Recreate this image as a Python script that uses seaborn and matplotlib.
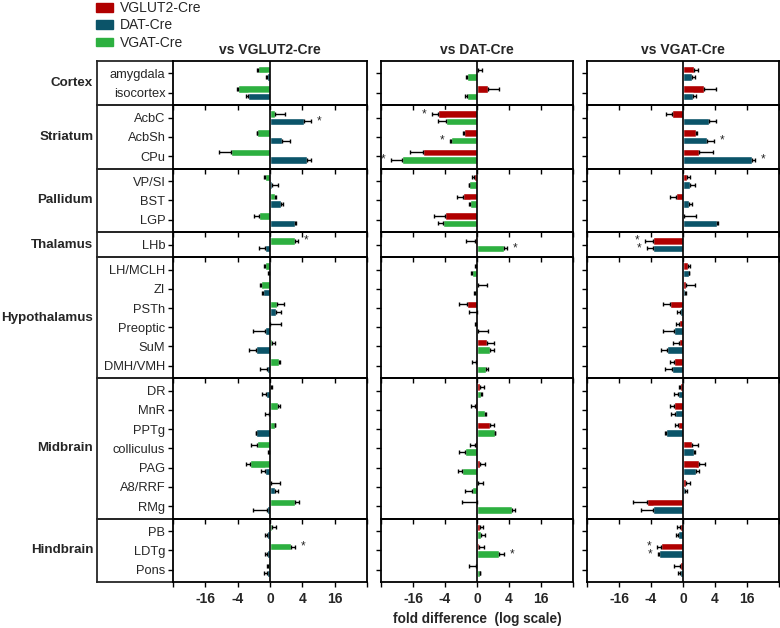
import matplotlib
matplotlib.use('Agg')
import matplotlib.pyplot as plt
from matplotlib.patches import Patch
import numpy as np
import pandas as pd
import seaborn as sns

# brain regions, grouped
groups = ['Cortex', 'Striatum', 'Pallidum', 'Thalamus', 'Hypothalamus', 'Midbrain', 'Hindbrain']
group_sizes = [2, 3, 3, 1, 6, 7, 3]
regions = ['amygdala', 'isocortex', 'AcbC', 'AcbSh', 'CPu', 'VP/SI', 'BST', 'LGP', 'LHb',
           'LH/MCLH', 'ZI', 'PSTh', 'Preoptic', 'SuM', 'DMH/VMH',
           'DR', 'MnR', 'PPTg', 'colliculus', 'PAG', 'A8/RRF', 'RMg',
           'PB', 'LDTg', 'Pons']

# log2 fold difference (mean) and one-sided error
# vs VGLUT2-Cre
vglut2_vgat = [-0.72, -1.99, 0.3, -0.78, -2.43, -0.32, 0.3, -0.66, 1.55, -0.32, -0.55, 0.42, 0.02,
               0.1, 0.55, 0.06, 0.51, 0.3, -0.8, -1.21, 0.04, 1.57, 0.13, 1.27, -0.13]
vglut2_vgat_err = [0.06, 0.04, 0.6, 0.04, 0.7, 0.06, 0.08, 0.31, 0.2, 0.08, 0.04, 0.45, 0.64,
                   0.18, 0.05, 0.06, 0.08, 0.04, 0.4, 0.27, 0.55, 0.23, 0.23, 0.25, 0.04]
vglut2_dat = [-0.19, -1.35, 2.12, 0.76, 2.31, 0.13, 0.7, 1.57, -0.3, -0.08, -0.44, 0.36, -0.34,
              -0.87, -0.19, -0.25, -0.08, -0.85, -0.08, -0.3, 0.34, -0.21, -0.17, -0.21, -0.21]
vglut2_dat_err = [0.06, 0.13, 0.44, 0.47, 0.25, 0.38, 0.13, 0.06, 0.38, 0.04, 0.04, 0.3, 0.7,
                  0.42, 0.44, 0.26, 0.24, 0.04, 0.04, 0.23, 0.17, 0.83, 0.17, 0.08, 0.15]

# vs DAT-Cre
dat_vglut2 = [0.04, 0.69, -2.43, -0.84, -3.35, -0.21, -0.86, -2.01, -0.15, -0.06, 0.04, -0.63, -0.08,
              0.63, -0.06, 0.21, -0.15, 0.8, -0.13, 0.21, 0.04, -0.02, 0.17, 0.15, -0.08]
dat_vglut2_err = [0.3, 0.69, 0.38, 0.02, 0.84, 0.08, 0.4, 0.67, 0.54, 0.04, 0.59, 0.5, 0.06,
                  0.44, 0.25, 0.21, 0.21, 0.27, 0.31, 0.31, 0.34, 0.92, 0.21, 0.29, 0.44]
dat_vgat = [-0.63, -0.65, -1.95, -1.63, -4.69, -0.48, -0.44, -2.14, 1.7, -0.29, -0.15, -0.02, 0.04,
            0.8, 0.59, 0.27, 0.52, 1.11, -0.73, -0.92, -0.29, 2.2, 0.27, 1.38, 0.17]
dat_vgat_err = [0.06, 0.08, 0.5, 0.04, 0.71, 0.04, 0.04, 0.31, 0.17, 0.1, 0.04, 0.48, 0.63,
                0.25, 0.08, 0.06, 0.04, 0.04, 0.42, 0.29, 0.46, 0.19, 0.23, 0.3, 0.04]

# vs VGAT-Cre
vgat_vglut2 = [0.67, 1.33, -0.69, 0.82, 0.97, 0.25, -0.46, 0.04, -1.85, 0.29, 0.17, -0.8, -0.25,
               -0.25, -0.59, -0.17, -0.57, -0.34, 0.55, 1.03, 0.17, -2.23, -0.21, -1.35, -0.21]
vgat_vglut2_err = [0.25, 0.74, 0.38, 0.04, 0.9, 0.19, 0.34, 0.78, 0.55, 0.17, 0.57, 0.46, 0.17,
                   0.4, 0.25, 0.1, 0.25, 0.19, 0.4, 0.32, 0.29, 0.91, 0.17, 0.25, 0.38]
vgat_dat = [0.59, 0.65, 1.64, 1.52, 4.29, 0.44, 0.4, 2.15, -1.85, 0.36, 0.15, -0.21, -0.57,
            -0.97, -0.69, -0.34, -0.53, -1.09, 0.69, 0.82, 0.13, -1.85, -0.32, -1.52, -0.17]
vgat_dat_err = [0.15, 0.19, 0.42, 0.42, 0.23, 0.34, 0.19, 0.06, 0.38, 0.04, 0.04, 0.19, 0.69,
                0.42, 0.46, 0.23, 0.25, 0.04, 0.04, 0.21, 0.15, 0.76, 0.1, 0.06, 0.17]

# significance marks (region, genotype)
vglut2_stars = [('AcbC', 'DAT-Cre'), ('LHb', 'VGAT-Cre'), ('LDTg', 'VGAT-Cre')]
dat_stars = [('AcbC', 'VGLUT2-Cre'), ('AcbSh', 'VGAT-Cre'), ('CPu', 'VGAT-Cre'),
             ('LHb', 'VGAT-Cre'), ('LDTg', 'VGAT-Cre')]
vgat_stars = [('AcbSh', 'DAT-Cre'), ('CPu', 'DAT-Cre'), ('LHb', 'VGLUT2-Cre'),
              ('LHb', 'DAT-Cre'), ('LDTg', 'VGLUT2-Cre'), ('LDTg', 'DAT-Cre')]

tick_pos = [-6, -4, -2, 0, 2, 4, 6]
tick_labels = ['', '-16', '-4', '0', '4', '16', '']

palette = {'VGLUT2-Cre': '#B00000', 'DAT-Cre': '#0B5469', 'VGAT-Cre': '#2DB040'}


def long_df(series):
    rows = []
    for geno, vals, errs in series:
        for r, v, e in zip(regions, vals, errs):
            rows.append({'region': r, 'genotype': geno, 'value': v, 'err': e})
    return pd.DataFrame(rows)


columns = [
    ('vs VGLUT2-Cre', long_df([('VGAT-Cre', vglut2_vgat, vglut2_vgat_err),
                               ('DAT-Cre', vglut2_dat, vglut2_dat_err)]),
     ['VGAT-Cre', 'DAT-Cre'], vglut2_stars),
    ('vs DAT-Cre', long_df([('VGLUT2-Cre', dat_vglut2, dat_vglut2_err),
                            ('VGAT-Cre', dat_vgat, dat_vgat_err)]),
     ['VGLUT2-Cre', 'VGAT-Cre'], dat_stars),
    ('vs VGAT-Cre', long_df([('VGLUT2-Cre', vgat_vglut2, vgat_vglut2_err),
                             ('DAT-Cre', vgat_dat, vgat_dat_err)]),
     ['VGLUT2-Cre', 'DAT-Cre'], vgat_stars),
]

sns.set_style('ticks')
plt.rcParams['font.family'] = ['Liberation Sans', 'DejaVu Sans']
plt.rcParams['axes.linewidth'] = 1.3

W, H = 780, 628
fig = plt.figure(figsize=(W / 100, H / 100), dpi=100)

col_left = [173, 381, 587]
col_width = [194, 192, 192]
top_px, bottom_px = 61, 582
pad = 0.3
unit = (bottom_px - top_px) / (sum(group_sizes) + pad * len(groups))

starts = np.cumsum([0] + group_sizes)
y_px = top_px
for gi, (gname, n) in enumerate(zip(groups, group_sizes)):
    h_px = (n + pad) * unit
    bot = 1 - (y_px + h_px) / H
    hf = h_px / H
    g_regions = regions[starts[gi]:starts[gi] + n]
    last = gi == len(groups) - 1

    # box holding the group name on the left
    lab = fig.add_axes([97 / W, bot, (173 - 97) / W, hf])
    lab.patch.set_visible(False)
    lab.set_xticks([])
    lab.set_yticks([])
    lab.spines['right'].set_visible(False)
    lab.text(-0.05, 0.5, gname, transform=lab.transAxes, ha='right', va='center',
             fontsize=9.6, fontweight='bold')

    for ci, (title, df, hue_order, stars) in enumerate(columns):
        ax = fig.add_axes([col_left[ci] / W, bot, col_width[ci] / W, hf])
        ax.patch.set_visible(False)
        sub = df[df['region'].isin(g_regions)]
        sns.barplot(data=sub, x='value', y='region', hue='genotype', order=g_regions,
                    hue_order=hue_order, palette=palette, orient='h', dodge=True,
                    width=0.78, errorbar=None, legend=False, ax=ax, saturation=1)
        for cont, geno in zip(ax.containers, hue_order):
            for bar, reg in zip(cont, g_regions):
                row = sub[(sub['region'] == reg) & (sub['genotype'] == geno)].iloc[0]
                v, e = row['value'], row['err']
                yc = bar.get_y() + bar.get_height() / 2
                xerr = [[e if v < 0 else 0], [e if v >= 0 else 0]]
                ax.errorbar([v], [yc], xerr=xerr, fmt='none', ecolor='black',
                            elinewidth=1, capsize=1.6, capthick=1)
                if (reg, geno) in stars:
                    s = 1 if v >= 0 else -1
                    ax.text(v + s * (e + 0.5), yc, '*', ha='center', va='center',
                            fontsize=8.5)
        ax.axvline(0, color='black', lw=1.2)
        ax.set_xlim(-6, 6)
        ax.set_ylim(n - 0.5 + pad / 2, -0.5 - pad / 2)
        ax.set_xticks(tick_pos)
        ax.set_xlabel('')
        ax.set_ylabel('')
        ax.tick_params(axis='both', direction='out', length=3.5, width=1, color='black')
        if last:
            ax.set_xticklabels(tick_labels, fontweight='bold', fontsize=10)
            ax.tick_params(axis='x', pad=4)
        else:
            ax.tick_params(axis='x', labelbottom=False)
        if ci == 0:
            ax.tick_params(axis='y', labelsize=9.3, pad=2)
        else:
            ax.tick_params(axis='y', labelleft=False)
        for sp in ax.spines.values():
            sp.set_visible(True)
            sp.set_color('black')
        if gi == 0:
            ax.set_title(title, fontsize=10, fontweight='bold', pad=5)
    y_px += h_px

fig.text(477 / W, 1 - 619 / H, 'fold difference  (log scale)', ha='center', va='center',
         fontsize=9.8, fontweight='bold')

handles = [Patch(color=palette[g], label=g) for g in ['VGLUT2-Cre', 'DAT-Cre', 'VGAT-Cre']]
fig.legend(handles=handles, loc='upper left', bbox_to_anchor=(96 / W, 1 - 1 / H),
           frameon=False, fontsize=10, handlelength=1.2, handleheight=0.6,
           handletextpad=0.5, labelspacing=0.25, borderpad=0, borderaxespad=0)

fig.savefig('out.png', dpi=100)
